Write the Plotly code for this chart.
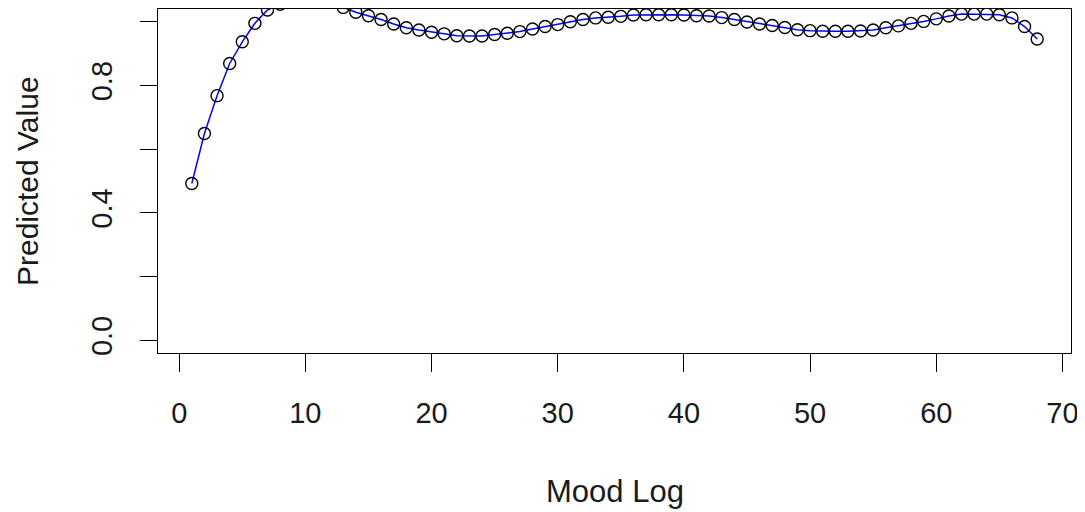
import plotly.graph_objects as go

mood_log = list(range(1, 69))
predicted = [
    0.492, 0.649, 0.768, 0.869, 0.937, 0.995, 1.037, 1.055, 1.072, 1.082,
    1.080, 1.068, 1.045, 1.030, 1.019, 1.007, 0.993, 0.981, 0.974, 0.967,
    0.962, 0.956, 0.955, 0.955, 0.960, 0.964, 0.969, 0.977, 0.985, 0.991,
    1.000, 1.007, 1.012, 1.014, 1.017, 1.021, 1.022, 1.022, 1.022, 1.021,
    1.019, 1.018, 1.013, 1.007, 0.999, 0.993, 0.988, 0.982, 0.975, 0.972,
    0.970, 0.970, 0.970, 0.971, 0.974, 0.981, 0.987, 0.995, 1.001, 1.009,
    1.018, 1.024, 1.024, 1.024, 1.022, 1.012, 0.985, 0.946,
]
x_ticks = [0, 10, 20, 30, 40, 50, 60, 70]
y_ticks = [0.0, 0.2, 0.4, 0.6, 0.8, 1.0]
y_tick_text = ["0.0", "", "0.4", "", "0.8", ""]

FONT = "Liberation Sans, Arial, sans-serif"
TXT = "#1a1a1a"

fig = go.Figure()
fig.add_trace(go.Scatter(
    x=mood_log, y=predicted, mode="lines+markers",
    line=dict(color="#0000ff", width=1.5),
    marker=dict(symbol="circle-open", size=12, color="#000000",
                line=dict(color="#000000", width=1.4)),
    cliponaxis=True, showlegend=False,
))

fig.update_layout(
    width=1077, height=504,
    margin=dict(l=150, r=14, t=1, b=159, autoexpand=False),
    paper_bgcolor="white", plot_bgcolor="white",
    font=dict(family=FONT, size=29, color=TXT),
    xaxis=dict(
        range=[-1.68, 70.68], tickvals=x_ticks,
        ticktext=[str(v) for v in x_ticks],
        showgrid=False, zeroline=False, automargin=False,
        showline=True, linecolor="#000000", linewidth=1.3, mirror=True,
        ticks="outside", ticklen=18, tickwidth=1.3, tickcolor="#000000",
        ticklabelstandoff=16,
    ),
    yaxis=dict(
        range=[-0.04, 1.04], tickvals=y_ticks, ticktext=y_tick_text,
        tickangle=-90,
        showgrid=False, zeroline=False, automargin=False,
        showline=True, linecolor="#000000", linewidth=1.3, mirror=True,
        ticks="outside", ticklen=17, tickwidth=1.3, tickcolor="#000000",
        ticklabelstandoff=16,
    ),
    annotations=[
        dict(text="Mood Log", xref="paper", yref="paper", x=0.5, y=0,
             yshift=-138, showarrow=False, xanchor="center", yanchor="middle",
             font=dict(family=FONT, size=31, color=TXT)),
        dict(text="Predicted Value", xref="paper", yref="paper", x=0, y=0.5,
             xshift=-131, showarrow=False, textangle=-90,
             xanchor="center", yanchor="middle",
             font=dict(family=FONT, size=30, color=TXT)),
    ],
)

fig.write_html("out.html")
